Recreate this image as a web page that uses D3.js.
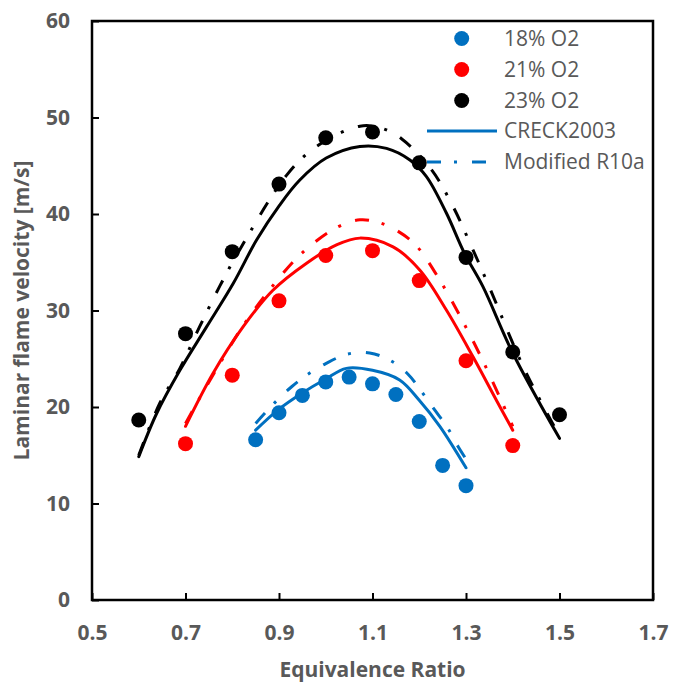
<!DOCTYPE html>
<html lang="en">
<head>
    <meta charset="UTF-8">
    <script type="text/javascript" src="https://d3js.org/d3.v7.min.js"></script>
    <title>Laminar flame velocity</title>
    <style>
        body { margin: 0; background: #fff; }
        text { font-family: "Open Sans", sans-serif; fill: #595959; }
    </style>
</head>
<body>
    <svg id="plot"></svg>
    <script>
        const width = 673;
        const height = 684;
        const margin = {"top": 21, "bottom": 84, "left": 92, "right": 20};

        // measured points
        const phi18 = [0.85, 0.9, 0.95, 1.0, 1.05, 1.1, 1.15, 1.2, 1.25, 1.3];
        const sl18 = [16.6, 19.4, 21.2, 22.6, 23.1, 22.4, 21.3, 18.5, 13.95, 11.85];
        const phi21 = [0.7, 0.8, 0.9, 1.0, 1.1, 1.2, 1.3, 1.4];
        const sl21 = [16.2, 23.3, 31.0, 35.7, 36.2, 33.1, 24.8, 16.0];
        const phi23 = [0.6, 0.7, 0.8, 0.9, 1.0, 1.1, 1.2, 1.3, 1.4, 1.5];
        const sl23 = [18.65, 27.6, 36.1, 43.1, 47.9, 48.5, 45.3, 35.5, 25.7, 19.2];

        // CRECK2003 (solid)
        const creck18x = [0.85, 0.898, 0.948, 1.0, 1.044, 1.10, 1.158, 1.20, 1.244, 1.30];
        const creck18y = [17.6, 19.7, 21.4, 22.9, 24.0, 23.8, 22.8, 20.7, 18.0, 13.7];
        const creck21x = [0.70, 0.759, 0.823, 0.887, 0.959, 1.023, 1.073, 1.144, 1.201, 1.258, 1.315, 1.365, 1.40];
        const creck21y = [18.0, 23.5, 28.3, 32.1, 34.9, 36.8, 37.5, 36.6, 34.2, 30.05, 25.2, 20.7, 17.6];
        const creck23x = [0.60, 0.638, 0.688, 0.745, 0.802, 0.852, 0.901, 0.944, 1.001, 1.073, 1.13, 1.18, 1.215, 1.258, 1.297, 1.336, 1.40, 1.50];
        const creck23y = [14.85, 19.3, 23.8, 28.3, 32.8, 37.3, 40.9, 43.5, 45.8, 47.0, 46.8, 45.6, 43.9, 40.1, 35.9, 32.5, 25.6, 16.75];

        // Modified R10a (dash-dot)
        const r10a18x = [0.85, 0.89, 0.927, 0.962, 1.0, 1.048, 1.094, 1.139, 1.176, 1.205, 1.233, 1.26, 1.283, 1.30];
        const r10a18y = [18.3, 20.4, 22.1, 23.4, 24.5, 25.5, 25.6, 24.8, 23.4, 21.6, 19.7, 17.9, 15.9, 14.6];
        const r10a21x = [0.70, 0.73, 0.777, 0.827, 0.884, 0.948, 1.023, 1.073, 1.115, 1.155, 1.194, 1.247, 1.294, 1.336, 1.376, 1.40];
        const r10a21y = [18.3, 20.9, 24.8, 28.7, 32.4, 35.9, 38.6, 39.4, 39.1, 38.2, 36.7, 32.9, 28.8, 24.8, 20.6, 18.0];
        const r10a23x = [0.60, 0.645, 0.688, 0.73, 0.773, 0.816, 0.916, 0.98, 1.073, 1.119, 1.162, 1.226, 1.272, 1.312, 1.351, 1.426, 1.50];
        const r10a23y = [15.0, 20.4, 24.0, 28.3, 32.5, 36.3, 44.0, 47.0, 49.1, 48.9, 47.8, 44.6, 40.8, 36.6, 32.3, 23.8, 17.0];

        const xTicks = [0.5, 0.7, 0.9, 1.1, 1.3, 1.5, 1.7];
        const yTicks = [0, 10, 20, 30, 40, 50, 60];
        const seriesNames = ["18% O2", "21% O2", "23% O2"];
        const seriesColors = ["#0070C0", "#FF0000", "#000000"];
        const modelNames = ["CRECK2003", "Modified R10a"];

        const zip = (a, b) => a.map((v, i) => [v, b[i]]);
        const points = [zip(phi18, sl18), zip(phi21, sl21), zip(phi23, sl23)];
        const creck = [zip(creck18x, creck18y), zip(creck21x, creck21y), zip(creck23x, creck23y)];
        const r10a = [zip(r10a18x, r10a18y), zip(r10a21x, r10a21y), zip(r10a23x, r10a23y)];

        const svg = d3.select("#plot").attr("width", width).attr("height", height);

        var x = d3.scaleLinear()
            .domain([0.5, 1.7])
            .range([margin.left, width - margin.right]);
        var y = d3.scaleLinear()
            .domain([0, 60])
            .range([height - margin.bottom, margin.top]);

        var line = d3.line()
            .x(d => x(d[0]))
            .y(d => y(d[1]))
            .curve(d3.curveCatmullRom.alpha(0.5));

        const dash = "14,13,3,15";
        const fs = 21;

        // model lines
        creck.forEach((s, i) => {
            svg.append("path").attr("d", line(s))
                .attr("fill", "none").attr("stroke", seriesColors[i])
                .attr("stroke-width", 3).attr("stroke-linecap", "round");
        });
        r10a.forEach((s, i) => {
            svg.append("path").attr("d", line(s))
                .attr("fill", "none").attr("stroke", seriesColors[i])
                .attr("stroke-width", 3).attr("stroke-dasharray", dash);
        });

        // experiments
        points.forEach((s, i) => {
            svg.append("g").selectAll("circle").data(s).join("circle")
                .attr("cx", d => x(d[0])).attr("cy", d => y(d[1]))
                .attr("r", 7.5).attr("fill", seriesColors[i]);
        });

        // axes
        var x_axis = d3.axisBottom(x).tickValues(xTicks).tickFormat(d3.format(".1f"))
            .tickSizeInner(-7).tickSizeOuter(0).tickPadding(25);
        var y_axis = d3.axisLeft(y).tickValues(yTicks)
            .tickSizeInner(-7).tickSizeOuter(0).tickPadding(22);

        const gx = svg.append("g").attr("transform", `translate(0, ${y(0)})`).call(x_axis);
        const gy = svg.append("g").attr("transform", `translate(${x(0.5)}, 0)`).call(y_axis);
        [gx, gy].forEach(g => {
            g.select(".domain").remove();
            g.selectAll(".tick line").attr("stroke", "#000").attr("stroke-width", 2);
            g.selectAll("text").attr("font-size", fs).attr("font-weight", "bold")
                .attr("font-family", "Open Sans").attr("fill", "#595959");
        });

        // frame
        svg.append("rect")
            .attr("x", x(0.5)).attr("y", y(60))
            .attr("width", x(1.7) - x(0.5)).attr("height", y(0) - y(60))
            .attr("fill", "none").attr("stroke", "#000").attr("stroke-width", 2.5);

        // axis titles
        svg.append("text")
            .attr("x", (x(0.5) + x(1.7)) / 2).attr("y", 677)
            .attr("text-anchor", "middle").attr("font-size", fs).attr("font-weight", "bold")
            .text("Equivalence Ratio");
        svg.append("text")
            .attr("transform", `translate(29, ${(y(0) + y(60)) / 2}) rotate(-90)`)
            .attr("text-anchor", "middle").attr("font-size", fs).attr("font-weight", "bold")
            .text("Laminar flame velocity [m/s]");

        // legend
        const leg = svg.append("g");
        seriesNames.forEach((n, i) => {
            const ly = 38.5 + i * 31;
            leg.append("circle").attr("cx", 461.7).attr("cy", ly).attr("r", 7.5).attr("fill", seriesColors[i]);
            leg.append("text").attr("x", 504).attr("y", ly).attr("dy", "0.35em")
                .attr("font-size", fs).text(n);
        });
        modelNames.forEach((n, i) => {
            const ly = 131 + i * 31;
            leg.append("line").attr("x1", 427).attr("x2", 497).attr("y1", ly).attr("y2", ly)
                .attr("stroke", seriesColors[0]).attr("stroke-width", 3)
                .attr("stroke-dasharray", i === 0 ? null : dash);
            leg.append("text").attr("x", 504).attr("y", ly).attr("dy", "0.35em")
                .attr("font-size", fs).text(n);
        });
    </script>
</body>
</html>
